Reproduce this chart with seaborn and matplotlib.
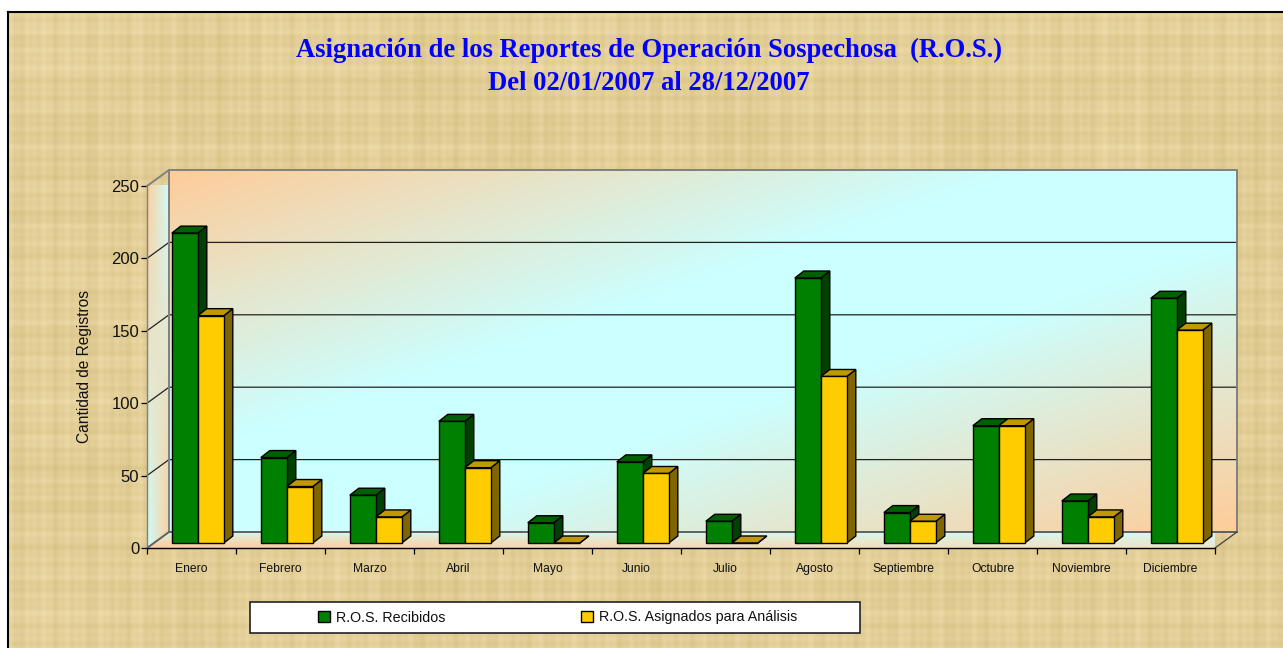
import numpy as np
import pandas as pd
import matplotlib
matplotlib.use("Agg")
import matplotlib.pyplot as plt
from matplotlib.patches import Polygon, Rectangle
import seaborn as sns

meses = ["Enero", "Febrero", "Marzo", "Abril", "Mayo", "Junio", "Julio", "Agosto",
         "Septiembre", "Octubre", "Noviembre", "Diciembre"]
recibidos = [214, 59, 33, 84, 14, 56, 15, 183, 21, 81, 29, 169]
asignados = [157, 39, 18, 52, 0, 48, 0, 115, 15, 81, 18, 147]
serie_a = "R.O.S. Recibidos"
serie_b = "R.O.S. Asignados para Análisis"
titulo = "Asignación de los Reportes de Operación Sospechosa  (R.O.S.)\nDel 02/01/2007 al 28/12/2007"
y_ticks = [0, 50, 100, 150, 200, 250]

W, H = 1283, 648
sns.set_theme(style="white")
plt.rcParams["font.family"] = ["Liberation Sans", "DejaVu Sans"]
fig = plt.figure(figsize=(W / 100, H / 100), dpi=100, facecolor="white")

# parchment background (decorative woven texture from fixed sines)
bg = fig.add_axes([8 / W, 0, 1 - 8 / W, (H - 12) / H])
yy, xx = np.mgrid[0:H - 12, 0:W - 8]
tex = (np.sin(xx / 1.3) * .22 + np.sin(xx / 2.9 + 1) * .25 + np.sin(xx / 5.3 + 2) * .2
       + np.sin(xx / 17.3) * .08 + np.sin(xx / 41.) * .1
       + np.sin(yy / 1.4) * .22 + np.sin(yy / 3.1 + 2) * .25 + np.sin(yy / 6.7) * .2
       + np.sin(yy / 19.3) * .08 + np.sin(yy / 47. + 1) * .1
       + np.sin(xx / 37.) * np.sin(yy / 29.) * .15)
base = np.array([226, 206, 150])[None, None, :]
amp = np.array([9, 10, 14])[None, None, :]
bg.imshow(np.clip((base + tex[..., None] * amp) / 255, 0, 1), aspect="auto", interpolation="nearest")
bg.set_xticks([]); bg.set_yticks([])
for s in ["right", "bottom"]:
    bg.spines[s].set_visible(False)
for s in ["left", "top"]:
    bg.spines[s].set_color("black"); bg.spines[s].set_linewidth(1.5)

# main axes = front plane of the 3D box
L, R, T, B = 147, 1215, 186, 548
ax = fig.add_axes([L / W, 1 - B / H, (R - L) / W, (B - T) / H])
ax.patch.set_alpha(0)
px_x = (R - L) / 12      # px per category
px_y = (B - T) / 250     # px per value unit
DX, DY = 22 / px_x, 16 / px_y        # box depth
bx, by = 9 / px_x, 7 / px_y          # bar depth
sx, sy = 6.3 / px_x, 5 / px_y        # bar front-plane offset

df = pd.DataFrame({"Mes": meses * 2,
                   "Cantidad": recibidos + asignados,
                   "Serie": [serie_a] * 12 + [serie_b] * 12})
sns.barplot(data=df, x="Mes", y="Cantidad", hue="Serie", order=meses, hue_order=[serie_a, serie_b],
            palette=["#008000", "#FFCC00"], saturation=1, width=52 / px_x, gap=0, dodge=True,
            edgecolor="black", linewidth=1, ax=ax)
handles, labels = ax.get_legend_handles_labels()
ax.get_legend().remove()

x0, x1 = -0.5, 11.5
peach = np.array([255, 204, 153]) / 255
cyan = np.array([204, 255, 255]) / 255

# back wall
u, v = np.meshgrid(np.linspace(0, 1, 400), np.linspace(0, 1, 200))
t = np.clip((1 - np.abs((u + v) - 1)) * 1.25, 0, 1)
wall = peach + (cyan - peach) * t[..., None]
ax.imshow(wall, extent=(x0 + DX, x1 + DX, DY, 250 + DY), aspect="auto", zorder=0, clip_on=False)

# side wall
u, v = np.meshgrid(np.linspace(0, 1, 60), np.linspace(0, 1, 200))
t = u * (1 - v) + (1 - u) * v
im = ax.imshow(peach + (cyan - peach) * t[..., None], extent=(x0, x0 + DX, 0, 250 + DY), aspect="auto", zorder=0)
clip = Polygon([(x0, 0), (x0 + DX, DY), (x0 + DX, 250 + DY), (x0, 250)], transform=ax.transData)
im.set_clip_path(clip)
im.set_clip_box(None)

# floor
u, v = np.meshgrid(np.linspace(0, 1, 200), np.linspace(0, 1, 40))
front = peach + (np.array([238, 232, 205]) / 255 - peach) * u[..., None]
flo = cyan + (front - cyan) * (v ** 0.6)[..., None]
im2 = ax.imshow(flo, extent=(x0, x1 + DX, 0, DY), aspect="auto", zorder=0)
clip2 = Polygon([(x0, 0), (x1, 0), (x1 + DX, DY), (x0 + DX, DY)], transform=ax.transData)
im2.set_clip_path(clip2)
im2.set_clip_box(None)

# grid lines on the walls
for val in y_ticks[1:-1]:
    ax.plot([x0, x0 + DX, x1 + DX], [val, val + DY, val + DY], color="#222222", lw=0.9, zorder=1, clip_on=False)
ax.plot([x0, x0 + DX, x1 + DX, x1 + DX], [250, 250 + DY, 250 + DY, DY], color="#808080", lw=1.4, zorder=1, clip_on=False)
ax.plot([x0 + DX, x0 + DX], [DY, 250 + DY], color="#808080", lw=1.4, zorder=1, clip_on=False)
ax.plot([x0, x0 + DX, x1 + DX], [0, DY, DY], color="#606060", lw=1.4, zorder=1, clip_on=False)
ax.plot([x1, x1 + DX], [0, DY], color="#404040", lw=0.9, zorder=1, clip_on=False)

# 3D bars
shades = [("#004000", "#006000"), ("#806600", "#BF9900")]
for k, cont in enumerate(ax.containers):
    side_c, top_c = shades[k]
    for i, p in enumerate(cont.patches):
        zo = 3 + i * 3 + k * 1.0 / 2
        xl = p.get_x() + sx
        w = p.get_width()
        h = p.get_height()
        p.set_x(xl); p.set_y(sy); p.set_zorder(zo + 0.2); p.set_clip_on(False)
        yb, yt = sy, sy + h
        xr = xl + w
        ax.add_patch(Polygon([(xr, yb), (xr + bx, yb + by), (xr + bx, yt + by), (xr, yt)], closed=True,
                             fc=side_c, ec="black", lw=1, zorder=zo, clip_on=False))
        ax.add_patch(Polygon([(xl, yt), (xl + bx, yt + by), (xr + bx, yt + by), (xr, yt)], closed=True,
                             fc=top_c, ec="black", lw=1, zorder=zo + 0.1, clip_on=False))

ax.set_xlim(x0, x1)
ax.set_ylim(0, 250)
for s in ["top", "right"]:
    ax.spines[s].set_visible(False)
ax.spines["left"].set_color("#808080"); ax.spines["left"].set_linewidth(1.0)
ax.spines["bottom"].set_color("black"); ax.spines["bottom"].set_linewidth(1.0)

ax.set_xticks(range(12), meses)
ax.set_xticks(np.arange(x0, x1 + 1), minor=True)
ax.tick_params(axis="x", which="major", length=0, pad=10.5, labelsize=8.7, colors="#111111", bottom=False)
ax.tick_params(axis="x", which="minor", length=4, width=0.9, color="black", bottom=True)
ax.set_yticks(y_ticks)
ax.tick_params(axis="y", length=4, width=0.9, color="black", left=True, pad=1.5, labelsize=12, labelcolor="#111111")
ax.set_xlabel("")
ax.set_ylabel("Cantidad de Registros", fontsize=11.2, color="#111111")
ax.yaxis.set_label_coords((92 - L) / (R - L), (B - 367) / (B - T))

# title
fig.text(649 / W, 1 - 67 / H, titulo, ha="center", va="center", color="#0000FF", fontsize=19.2,
         family=["Liberation Serif"], fontweight="bold", linespacing=1.42)

# legend
fig.add_artist(Rectangle((250 / W, 1 - 633 / H), 610 / W, 31 / H, transform=fig.transFigure,
                         fc="white", ec="#222222", lw=1.2, zorder=3))
fig.legend(handles, labels, loc="center left", bbox_to_anchor=(318 / W, 1 - 617.5 / H), frameon=False, ncols=2,
           fontsize=10.25, handlelength=0.85, handleheight=0.85, handletextpad=0.4, columnspacing=9.55,
           borderpad=0, borderaxespad=0, labelcolor="#111111").set_zorder(5)

fig.savefig("out.png", dpi=100)
